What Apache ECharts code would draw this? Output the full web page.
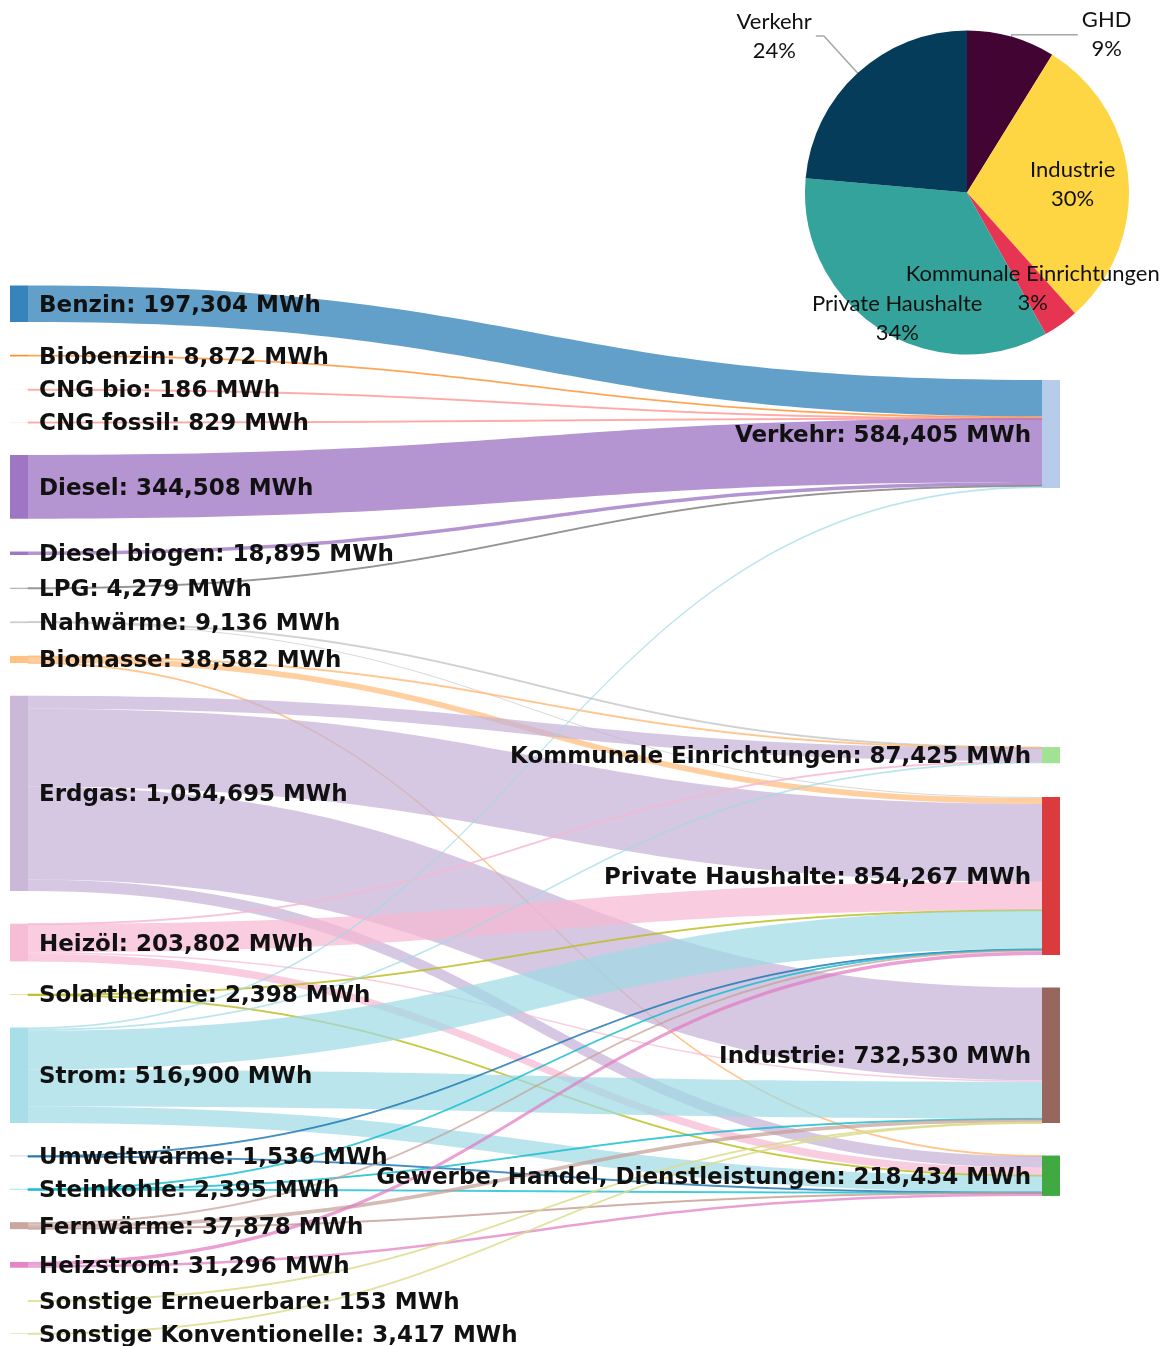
<!DOCTYPE html>
<html><head><meta charset="utf-8">
<script src="https://cdn.jsdelivr.net/npm/echarts@6/dist/echarts.min.js"></script>
<style>html,body{margin:0;padding:0;background:#fff}#c{width:1169px;height:1346px}</style>
</head><body><div id="c"></div>
<script>
// ---------- DATA ----------
const sourceNames = ['Benzin','Biobenzin','CNG bio','CNG fossil','Diesel','Diesel biogen','LPG','Nahwärme','Biomasse','Erdgas','Heizöl','Solarthermie','Strom','Umweltwärme','Steinkohle','Fernwärme','Heizstrom','Sonstige Erneuerbare','Sonstige Konventionelle'];
const sectorNames = ['Verkehr','Kommunale Einrichtungen','Private Haushalte','Industrie','Gewerbe, Handel, Dienstleistungen'];

const linkSource = ['Benzin','Biobenzin','CNG bio','CNG fossil','Diesel','Diesel biogen','LPG',
  'Nahwärme','Nahwärme','Biomasse','Biomasse','Biomasse',
  'Erdgas','Erdgas','Erdgas','Erdgas',
  'Heizöl','Heizöl','Heizöl','Heizöl',
  'Solarthermie','Solarthermie',
  'Strom','Strom','Strom','Strom','Strom',
  'Umweltwärme','Umweltwärme','Steinkohle','Steinkohle','Steinkohle',
  'Fernwärme','Fernwärme','Fernwärme','Heizstrom','Heizstrom',
  'Sonstige Erneuerbare','Sonstige Konventionelle'];
const linkTarget = ['Verkehr','Verkehr','Verkehr','Verkehr','Verkehr','Verkehr','Verkehr',
  'Kommunale Einrichtungen','Private Haushalte','Kommunale Einrichtungen','Private Haushalte','Gewerbe, Handel, Dienstleistungen',
  'Kommunale Einrichtungen','Private Haushalte','Industrie','Gewerbe, Handel, Dienstleistungen',
  'Kommunale Einrichtungen','Private Haushalte','Industrie','Gewerbe, Handel, Dienstleistungen',
  'Private Haushalte','Gewerbe, Handel, Dienstleistungen',
  'Verkehr','Kommunale Einrichtungen','Private Haushalte','Industrie','Gewerbe, Handel, Dienstleistungen',
  'Private Haushalte','Gewerbe, Handel, Dienstleistungen','Private Haushalte','Industrie','Gewerbe, Handel, Dienstleistungen',
  'Private Haushalte','Industrie','Gewerbe, Handel, Dienstleistungen','Private Haushalte','Gewerbe, Handel, Dienstleistungen',
  'Industrie','Industrie'];
const linkValue = [197304,8872,186,829,344508,18895,4279,
  3000,6136,3000,31582,4000,
  70000,421151,501817,61727,
  2400,152000,8000,41402,
  1598,800,
  9532,9025,210000,198343,90000,
  1000,536,800,800,795,
  12000,20000,5878,18000,13296,
  153,3417];

const pieNames = ['GHD','Industrie','Kommunale Einrichtungen','Private Haushalte','Verkehr'];
const pieValues = [218434,732530,87425,854267,584405];

// ---------- STYLE / LAYOUT ----------
const nodeColors = {
  'Benzin':'#1f77b4','Biobenzin':'#ff7f0e','CNG bio':'#ff9896','CNG fossil':'#ff9896',
  'Diesel':'#9467bd','Diesel biogen':'#9467bd','LPG':'#7f7f7f','Nahwärme':'#c7c7c7',
  'Biomasse':'#ffbb78','Erdgas':'#c5b0d5','Heizöl':'#f7b6d2','Solarthermie':'#bcbd22',
  'Strom':'#9edae5','Umweltwärme':'#1f77b4','Steinkohle':'#17becf','Fernwärme':'#c49c94',
  'Heizstrom':'#e377c2','Sonstige Erneuerbare':'#dbdb8d','Sonstige Konventionelle':'#dbdb8d',
  'Verkehr':'#aec7e8','Kommunale Einrichtungen':'#98df8a','Private Haushalte':'#d62728',
  'Industrie':'#8c564b','Gewerbe, Handel, Dienstleistungen':'#2ca02c'
};
// vertical placement of the sector column (fraction of sankey height)
const sectorLocalY = {
  'Verkehr':0.0901,'Kommunale Einrichtungen':0.4402,'Private Haushalte':0.4878,
  'Industrie':0.6695,'Gewerbe, Handel, Dienstleistungen':0.8298
};
const pieColors = ['#420433','#fed643','#e63453','#34a39b','#043c5a'];
const pieLabelShift = {'Industrie':[22,-1],'Kommunale Einrichtungen':[17,27],'Private Haushalte':[-24,55]};

// ---------- BUILD ----------
const total = {};
linkSource.forEach((s,i)=>{ total[s]=(total[s]||0)+linkValue[i]; total[linkTarget[i]]=(total[linkTarget[i]]||0)+linkValue[i]; });
const fmt = v => v.toLocaleString('en-US');
const labelFont = {fontFamily:'DejaVu Sans', fontWeight:'bold', fontSize:23, color:'#111', offset:[0,2]};

const nodes = sourceNames.map(n => ({
  name:n, itemStyle:{color:nodeColors[n], opacity:0.9},
  label:Object.assign({position:'right', distance:11}, labelFont)
})).concat(sectorNames.map(n => ({
  name:n, localY:sectorLocalY[n], itemStyle:{color:nodeColors[n], opacity:0.9},
  label:Object.assign({position:'left', distance:11}, labelFont)
})));

const links = linkSource.map((s,i)=>({
  source:s, target:linkTarget[i], value:linkValue[i],
  lineStyle:{color:nodeColors[s], opacity:0.7, borderColor:nodeColors[s], borderWidth: linkValue[i] < 6000 ? 1 : 0}
}));

const chart = echarts.init(document.getElementById('c'), null, {renderer:'canvas'});
chart.setOption({
  animation:false,
  backgroundColor:'#fff',
  series:[{
    type:'sankey',
    left:10, right:109, top:285.5, bottom:12,
    nodeWidth:18, nodeGap:32.8,
    layoutIterations:0,
    draggable:false,
    silent:true,
    emphasis:{disabled:true},
    label:{show:true, formatter:p=>p.name+': '+fmt(total[p.name])+' MWh'},
    lineStyle:{curveness:0.5},
    data:nodes,
    links:links
  },{
    type:'pie',
    center:[967,192.5],
    radius:162,
    startAngle:90,
    clockwise:true,
    silent:true,
    percentPrecision:0,
    avoidLabelOverlap:false,
    itemStyle:{borderWidth:0},
    label:{
      formatter:'{t|{b}}\n{t|{d}%}',
      rich:{t:{align:'center', fontFamily:'Lato', fontSize:22, lineHeight:29, color:'#111'}}
    },
    labelLine:{lineStyle:{color:'#a6a6a6', width:1.5}},
    labelLayout:function(p){
      const s = pieLabelShift[pieNames[p.dataIndex]];
      return s ? {dx:s[0], dy:s[1]} : {};
    },
    data:pieNames.map((n,i)=>{
      const outside = (n==='GHD' || n==='Verkehr');
      return {
        name:n, value:pieValues[i], itemStyle:{color:pieColors[i]},
        label:{position: outside ? 'outside' : 'inside', distanceToLabelLine:4},
        labelLine:{show:outside, length: n==='GHD' ? 2 : 50, length2: n==='GHD' ? 66 : 8}
      };
    })
  }]
});
</script>
</body></html>
